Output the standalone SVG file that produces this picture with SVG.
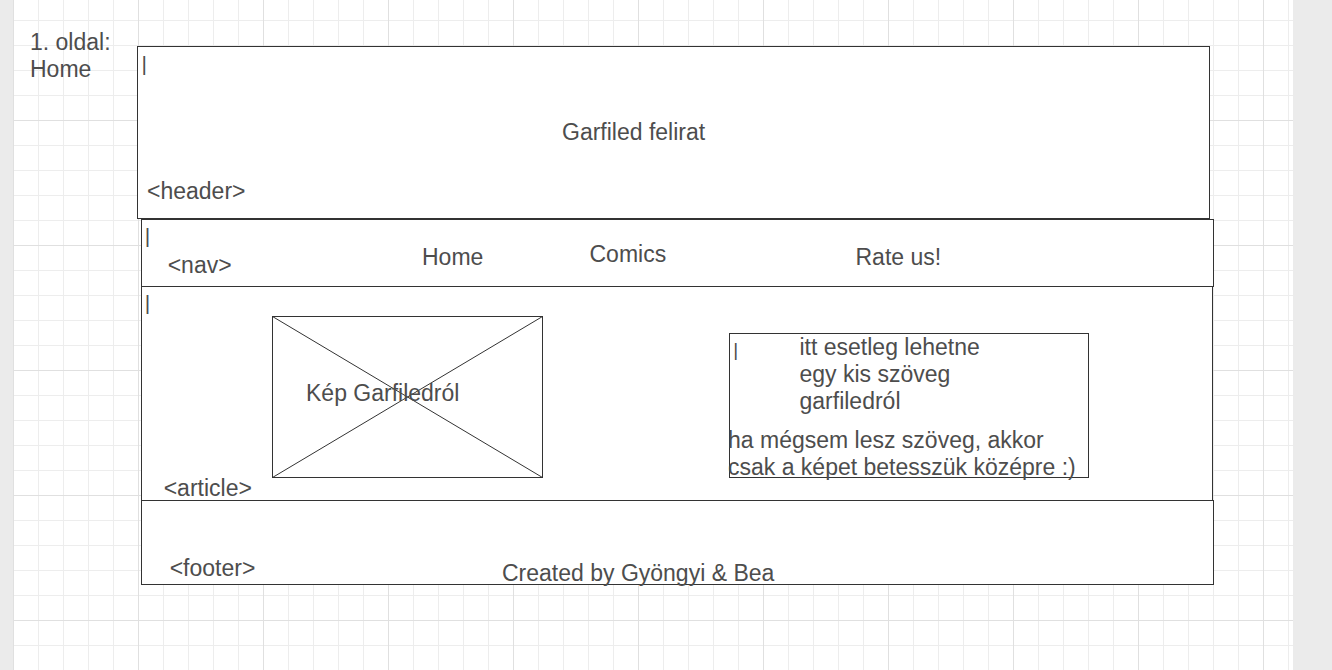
<svg xmlns="http://www.w3.org/2000/svg" width="1332" height="670" viewBox="0 0 1332 670">
<style>
  .box { fill: #ffffff; stroke: #333333; stroke-width: 1; }
  .ln { stroke: #333333; stroke-width: 1; fill: none; }
  .t { font-family: "Liberation Sans", Arial, Helvetica, sans-serif; font-size: 23px; fill: #4d4d4d; }
  .bar { font-family: "Liberation Sans", Arial, Helvetica, sans-serif; font-size: 21px; fill: #4d4d4d; }
</style>
<defs>
  <pattern id="grid" patternUnits="userSpaceOnUse" x="13" y="-5" width="125" height="125">
    <rect width="125" height="125" fill="#ffffff"/>
    <g stroke="#ededed" stroke-width="1">
      <line x1="25.5" y1="0" x2="25.5" y2="125"/>
      <line x1="50.5" y1="0" x2="50.5" y2="125"/>
      <line x1="75.5" y1="0" x2="75.5" y2="125"/>
      <line x1="100.5" y1="0" x2="100.5" y2="125"/>
      <line x1="0" y1="25.5" x2="125" y2="25.5"/>
      <line x1="0" y1="50.5" x2="125" y2="50.5"/>
      <line x1="0" y1="75.5" x2="125" y2="75.5"/>
      <line x1="0" y1="100.5" x2="125" y2="100.5"/>
    </g>
    <g stroke="#e0e0e0" stroke-width="1">
      <line x1="0.5" y1="0" x2="0.5" y2="125"/>
      <line x1="0" y1="0.5" x2="125" y2="0.5"/>
    </g>
  </pattern>
</defs>
<rect x="0" y="0" width="1332" height="670" fill="#ebebeb"/>
<rect x="13" y="0" width="1280" height="670" fill="url(#grid)"/>

<g id="page-label">
  <text class="t" x="30" y="50">1. oldal:</text>
  <text class="t" x="30" y="76.5">Home</text>
</g>

<g id="header">
  <rect class="box" x="137.5" y="46.5" width="1072" height="172"/>
  <text class="bar" x="141.4" y="70.6">|</text>
  <text class="t" x="562" y="140">Garfiled felirat</text>
  <text class="t" x="147" y="199">&lt;header&gt;</text>
</g>

<g id="nav">
  <rect class="box" x="141.5" y="219.5" width="1072" height="67"/>
  <text class="bar" x="144.8" y="243.3">|</text>
  <text class="t" x="167.7" y="273.3">&lt;nav&gt;</text>
  <text class="t" x="422" y="264.8">Home</text>
  <text class="t" x="589.5" y="261.6">Comics</text>
  <text class="t" x="855.5" y="264.8">Rate us!</text>
</g>

<g id="article">
  <rect class="box" x="141.5" y="286.5" width="1071" height="214"/>
  <text class="bar" x="144.8" y="310">|</text>
  <text class="t" x="163.7" y="496">&lt;article&gt;</text>
</g>

<g id="image">
  <rect class="box" x="272.5" y="316.5" width="270" height="161"/>
  <line class="ln" x1="272.5" y1="316.5" x2="542.5" y2="477.5"/>
  <line class="ln" x1="542.5" y1="316.5" x2="272.5" y2="477.5"/>
  <text class="t" x="306" y="400.7">Kép Garfiledról</text>
</g>

<g id="textbox">
  <rect class="box" x="729.5" y="333.5" width="359" height="144"/>
  <text class="bar" x="733.3" y="355.6" style="font-size:19px">|</text>
  <text class="t" x="799.5" y="354.5">itt esetleg lehetne</text>
  <text class="t" x="799.5" y="381.5">egy kis szöveg</text>
  <text class="t" x="799.5" y="408.5">garfiledról</text>
  <text class="t" x="728" y="447.7">ha mégsem lesz szöveg, akkor</text>
  <text class="t" x="728" y="475">csak a képet betesszük középre :)</text>
</g>

<g id="footer">
  <rect class="box" x="141.5" y="500.5" width="1072" height="84"/>
  <text class="t" x="169.7" y="576">&lt;footer&gt;</text>
  <text class="t" x="502" y="581">Created by Gyöngyi &amp; Bea</text>
</g>

<g id="connectors"></g>
</svg>
